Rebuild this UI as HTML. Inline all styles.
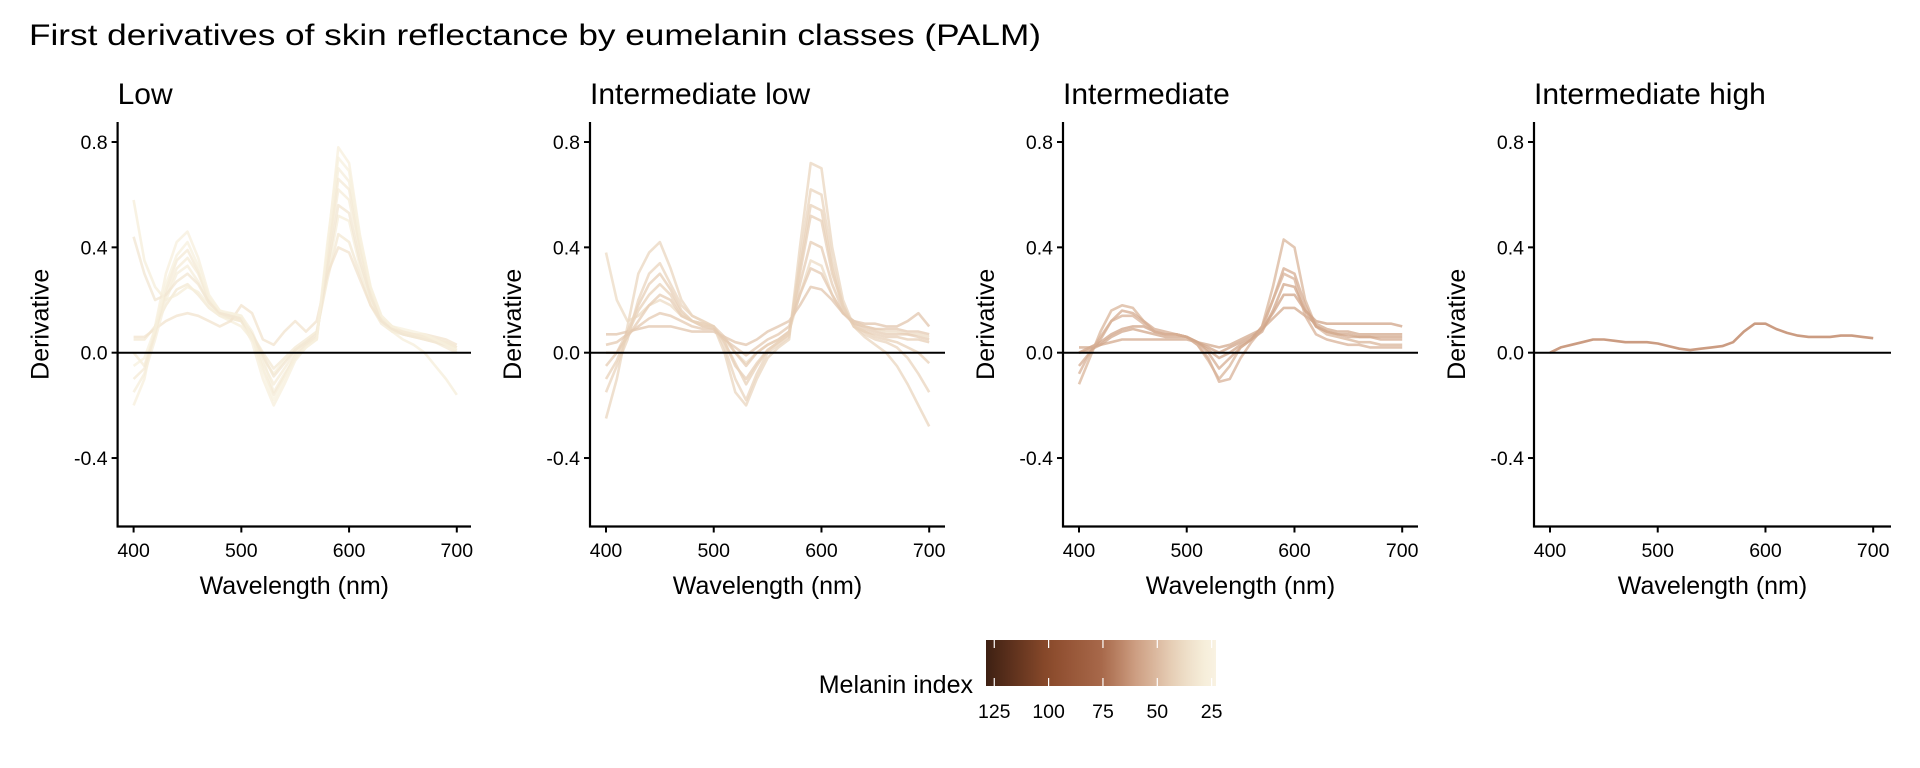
<!DOCTYPE html>
<html><head><meta charset="utf-8"><style>
html,body{margin:0;padding:0;background:#fff;}
svg{display:block;font-family:"Liberation Sans",Arial,sans-serif;}
</style></head><body>
<svg id="chart" width="1920" height="768" viewBox="0 0 1920 768" xmlns="http://www.w3.org/2000/svg">
<defs>
<linearGradient id="cbar" x1="0" x2="1" y1="0" y2="0">
</linearGradient>
</defs>
<text x="29" y="45" font-size="30" fill="#000" textLength="1012" lengthAdjust="spacingAndGlyphs">First derivatives of skin reflectance by eumelanin classes (PALM)</text>
<g id="panels"></g>
<g id="legend"></g>
</svg>
<script>
// ---- data ----
const wavelengths = [400,410,420,430,440,450,460,470,480,490,500,510,520,530,540,550,560,570,580,590,600,610,620,630,640,650,660,670,680,690,700];
const panelTitles = ["Low","Intermediate low","Intermediate","Intermediate high"];
const yTicks = [-0.4,0.0,0.4,0.8];
const yTickLabels = ["-0.4","0.0","0.4","0.8"];
const xTicks = [400,500,600,700];
const xTickLabels = ["400","500","600","700"];
const legendTicks = [125,100,75,50,25];
const legendTickLabels = ["125","100","75","50","25"];

const lowMelanin = [27,30,32,29,34,28,31,33,26];
const lowCurves = [
[-0.2,-0.1,0.1,0.3,0.42,0.46,0.36,0.22,0.16,0.14,0.12,0.04,-0.1,-0.2,-0.12,-0.03,0.02,0.05,0.4,0.78,0.72,0.45,0.25,0.14,0.1,0.08,0.07,0.06,0.05,0.04,0.02],
[0.0,-0.05,0.08,0.22,0.32,0.36,0.3,0.2,0.15,0.13,0.12,0.06,-0.04,-0.12,-0.06,0.0,0.03,0.06,0.35,0.62,0.58,0.38,0.22,0.12,0.09,0.07,0.06,0.06,0.05,0.04,0.02],
[0.05,0.05,0.1,0.18,0.24,0.26,0.22,0.17,0.14,0.13,0.12,0.07,0.0,-0.06,-0.02,0.02,0.05,0.08,0.28,0.45,0.42,0.3,0.18,0.11,0.08,0.07,0.06,0.05,0.04,0.02,0.0],
[0.58,0.35,0.25,0.2,0.22,0.25,0.23,0.18,0.14,0.12,0.1,0.05,-0.02,-0.08,-0.03,0.01,0.04,0.08,0.3,0.52,0.5,0.33,0.2,0.12,0.08,0.05,0.03,0.0,-0.05,-0.1,-0.16],
[0.06,0.06,0.09,0.12,0.14,0.15,0.14,0.12,0.1,0.12,0.18,0.15,0.05,0.03,0.08,0.12,0.08,0.12,0.3,0.4,0.38,0.28,0.18,0.12,0.09,0.08,0.07,0.07,0.06,0.05,0.03],
[-0.15,-0.08,0.05,0.2,0.3,0.33,0.27,0.19,0.15,0.15,0.14,0.08,-0.02,-0.15,-0.08,-0.02,0.03,0.05,0.38,0.7,0.65,0.42,0.24,0.13,0.1,0.08,0.07,0.06,0.05,0.03,0.01],
[-0.1,-0.06,0.07,0.24,0.35,0.39,0.31,0.2,0.15,0.14,0.13,0.06,-0.06,-0.16,-0.09,-0.01,0.03,0.06,0.36,0.66,0.62,0.4,0.23,0.13,0.1,0.08,0.07,0.06,0.05,0.04,0.02],
[0.44,0.3,0.2,0.22,0.27,0.3,0.26,0.19,0.15,0.14,0.13,0.07,-0.01,-0.09,-0.04,0.01,0.04,0.07,0.32,0.56,0.53,0.35,0.21,0.12,0.09,0.07,0.06,0.05,0.04,0.03,0.01],
[-0.05,-0.02,0.09,0.26,0.37,0.42,0.33,0.21,0.16,0.15,0.14,0.06,-0.07,-0.18,-0.1,-0.02,0.02,0.05,0.42,0.74,0.69,0.44,0.25,0.14,0.1,0.09,0.08,0.07,0.05,0.03,0.01]
];
const intLowMelanin = [40,43,38,46,41,44,42,45];
const intLowCurves = [
[-0.25,-0.1,0.1,0.3,0.38,0.42,0.32,0.2,0.14,0.12,0.1,0.0,-0.15,-0.2,-0.1,-0.02,0.02,0.05,0.4,0.72,0.7,0.4,0.2,0.1,0.06,0.03,0.0,-0.05,-0.12,-0.2,-0.28],
[0.0,0.0,0.08,0.18,0.26,0.3,0.24,0.16,0.12,0.11,0.1,0.04,-0.05,-0.1,-0.04,0.01,0.04,0.07,0.3,0.52,0.5,0.3,0.18,0.1,0.08,0.07,0.06,0.06,0.05,0.05,0.04],
[0.38,0.2,0.12,0.14,0.18,0.2,0.18,0.14,0.12,0.1,0.09,0.05,0.0,-0.04,0.0,0.03,0.05,0.08,0.22,0.35,0.33,0.22,0.15,0.12,0.1,0.09,0.08,0.08,0.07,0.07,0.06],
[0.07,0.07,0.08,0.09,0.1,0.1,0.1,0.09,0.08,0.08,0.08,0.06,0.04,0.03,0.05,0.08,0.1,0.12,0.18,0.25,0.24,0.2,0.15,0.12,0.11,0.11,0.1,0.1,0.12,0.15,0.1],
[-0.15,-0.05,0.05,0.2,0.3,0.34,0.26,0.18,0.14,0.12,0.1,0.02,-0.1,-0.18,-0.08,0.0,0.03,0.06,0.35,0.62,0.6,0.35,0.18,0.1,0.07,0.05,0.04,0.02,-0.02,-0.08,-0.15],
[-0.05,0.0,0.06,0.12,0.18,0.22,0.2,0.14,0.12,0.1,0.1,0.06,0.0,-0.05,0.0,0.03,0.05,0.08,0.26,0.42,0.4,0.26,0.16,0.11,0.09,0.08,0.07,0.07,0.07,0.06,0.05],
[-0.1,-0.03,0.07,0.16,0.22,0.26,0.22,0.15,0.12,0.11,0.1,0.04,-0.04,-0.12,-0.05,0.01,0.04,0.07,0.32,0.56,0.54,0.32,0.17,0.1,0.08,0.06,0.05,0.04,0.02,0.0,-0.04],
[0.03,0.04,0.07,0.1,0.13,0.15,0.14,0.12,0.1,0.09,0.09,0.05,0.02,-0.01,0.02,0.05,0.07,0.1,0.22,0.32,0.3,0.22,0.15,0.11,0.1,0.09,0.09,0.09,0.08,0.08,0.07]
];
const intMelanin = [52,55,58,56,53,57];
const intCurves = [
[-0.12,-0.02,0.08,0.16,0.18,0.17,0.12,0.08,0.07,0.07,0.06,0.03,-0.03,-0.1,-0.05,0.02,0.05,0.1,0.25,0.43,0.4,0.2,0.1,0.07,0.06,0.05,0.04,0.04,0.03,0.03,0.03],
[-0.05,0.0,0.05,0.12,0.16,0.15,0.12,0.09,0.08,0.07,0.06,0.04,0.0,-0.06,-0.02,0.02,0.05,0.1,0.2,0.32,0.3,0.18,0.1,0.08,0.07,0.06,0.06,0.06,0.05,0.05,0.05],
[0.0,0.02,0.04,0.07,0.09,0.1,0.1,0.08,0.07,0.07,0.06,0.04,0.02,0.0,0.02,0.04,0.06,0.09,0.15,0.22,0.22,0.16,0.12,0.11,0.11,0.11,0.11,0.11,0.11,0.11,0.1],
[0.02,0.02,0.03,0.04,0.05,0.05,0.05,0.05,0.05,0.05,0.05,0.04,0.03,0.02,0.03,0.05,0.07,0.09,0.13,0.17,0.17,0.14,0.11,0.09,0.08,0.08,0.07,0.07,0.07,0.07,0.07],
[-0.08,0.0,0.06,0.12,0.14,0.14,0.11,0.08,0.07,0.07,0.06,0.03,-0.02,-0.11,-0.1,-0.02,0.04,0.09,0.2,0.3,0.28,0.14,0.07,0.05,0.04,0.03,0.03,0.02,0.02,0.02,0.02],
[0.0,0.01,0.03,0.06,0.08,0.09,0.08,0.07,0.06,0.06,0.06,0.04,0.01,-0.02,0.0,0.03,0.05,0.08,0.16,0.26,0.25,0.16,0.1,0.08,0.07,0.07,0.06,0.06,0.06,0.06,0.06]
];
const intHighMelanin = [62];
const intHighCurves = [
[0.0,0.02,0.03,0.04,0.05,0.05,0.045,0.04,0.04,0.04,0.035,0.025,0.015,0.01,0.015,0.02,0.025,0.04,0.08,0.11,0.11,0.09,0.075,0.065,0.06,0.06,0.06,0.065,0.065,0.06,0.055]
];

// ---- layout ----
const NS = "http://www.w3.org/2000/svg";
const panelsData = [[lowCurves,lowMelanin],[intLowCurves,intLowMelanin],[intCurves,intMelanin],[intHighCurves,intHighMelanin]];
const axisX = [117.6,590,1063,1534];
const axisRight = [471,945,1418,1891];
const yTop = 122, yBottom = 526.5;
const yDomain = [-0.66,0.876];
const xPxPerNm = 323.2/300;
const colorStops = [[19,[251,246,232]],[30,[245,236,216]],[42,[232,210,186]],[60,[205,158,130]],[75,[168,105,75]],[100,[139,74,43]],[130,[58,30,18]]];
function melColor(m){
  for(let i=0;i<colorStops.length-1;i++){
    const a=colorStops[i],b=colorStops[i+1];
    if(m<=b[0]){const t=Math.max(0,(m-a[0])/(b[0]-a[0]));
      return "rgb("+a[1].map((v,k)=>Math.round(v+(b[1][k]-v)*t)).join(",")+")";}
  }
  return "rgb(58,30,18)";
}
function yScale(v){return yBottom-(v-yDomain[0])/(yDomain[1]-yDomain[0])*(yBottom-yTop);}
function mk(tag,attrs,parent,text){const e=document.createElementNS(NS,tag);for(const k in attrs)e.setAttribute(k,attrs[k]);if(text!==undefined)e.textContent=text;parent.appendChild(e);return e;}
const root=document.getElementById("panels");
panelsData.forEach((pd,p)=>{
  const ax=axisX[p];
  const x0=ax+16;
  const xScale=w=>x0+(w-400)*xPxPerNm;
  const g=mk("g",{},root);
  
  
  const t=mk("text",{x:ax,y:104,"font-size":30,fill:"#000"},g,panelTitles[p]);
  
  
  const cg=mk("g",{},g);
  
  
  const curves=pd[0],mel=pd[1];
  curves.forEach((c,i)=>{
    const d=c.map((v,j)=>(j?"L":"M")+xScale(wavelengths[j]).toFixed(1)+","+yScale(v).toFixed(1)).join("");
    const path=mk("path",{d:d,fill:"none",stroke:melColor(mel[i]),"stroke-width":2.6,"stroke-opacity":curves.length>1?0.75:0.95,"stroke-linejoin":"round"},cg);
    
    
  });
  const zl=mk("line",{x1:ax,x2:axisRight[p],y1:yScale(0),y2:yScale(0),stroke:"#000","stroke-width":2},g);
  
  
  const ya=mk("line",{x1:ax,x2:ax,y1:yTop,y2:yBottom+1,stroke:"#000","stroke-width":2.2},g);
  
  
  const xa=mk("line",{x1:ax-1,x2:axisRight[p],y1:yBottom,y2:yBottom,stroke:"#000","stroke-width":2.2},g);
  
  
  yTicks.forEach((v,i)=>{
    const yy=yScale(v);
    const tk=mk("line",{x1:ax-6,x2:ax,y1:yy,y2:yy,stroke:"#000","stroke-width":2},g);
    
    
    const lb=mk("text",{x:ax-10,y:yy+7,"font-size":19.5,"text-anchor":"end",fill:"#000"},g,yTickLabels[i]);
    
    
  });
  xTicks.forEach((v,i)=>{
    const xx=xScale(v);
    const tk=mk("line",{x1:xx,x2:xx,y1:yBottom,y2:yBottom+6,stroke:"#000","stroke-width":2},g);
    
    
    const lb=mk("text",{x:xx,y:557,"font-size":19.5,"text-anchor":"middle",fill:"#000"},g,xTickLabels[i]);
    
    
  });
  const xt=mk("text",{x:(ax+axisRight[p])/2,y:594,"font-size":25,"text-anchor":"middle",fill:"#000"},g,"Wavelength (nm)");
  
  
  const yc=(yTop+yBottom)/2;
  const yt=mk("text",{x:0,y:0,"font-size":25,"text-anchor":"middle",fill:"#000",transform:"translate("+(ax-69)+","+yc+") rotate(-90)"},g,"Derivative");
  
  
});
// legend
const lg=document.getElementById("legend");
const cbX0=986,cbX1=1216,cbY0=640,cbY1=686;
const legendScale=m=>cbX0+(128.8-m)/(128.8-23)*(cbX1-cbX0);
const grad=document.getElementById("cbar");
for(let k=0;k<=20;k++){const m=128.8-(128.8-23)*k/20;mk("stop",{offset:(k/20),"stop-color":melColor(m)},grad);}
const lt=mk("text",{x:973,y:693,"font-size":25,"text-anchor":"end",fill:"#000"},lg,"Melanin index");


const cb=mk("rect",{x:cbX0,y:cbY0,width:cbX1-cbX0,height:cbY1-cbY0,fill:"url(#cbar)"},lg);


legendTicks.forEach((v,i)=>{
  const xx=legendScale(v);
  const t1=mk("line",{x1:xx,x2:xx,y1:cbY0,y2:cbY0+8,stroke:"#fff","stroke-width":1.2},lg);
  
  
  const t2=mk("line",{x1:xx,x2:xx,y1:cbY1-8,y2:cbY1,stroke:"#fff","stroke-width":1.2},lg);
  
  
  const lb=mk("text",{x:xx,y:718,"font-size":19.5,"text-anchor":"middle",fill:"#000"},lg,legendTickLabels[i]);
  
  
});
</script>
</body></html>
